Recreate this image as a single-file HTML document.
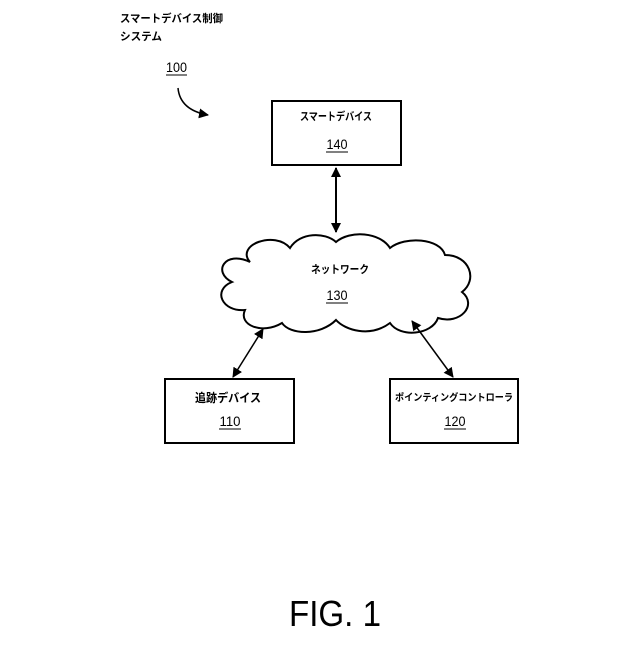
<!DOCTYPE html>
<html><head><meta charset="utf-8"><style>
body{margin:0;background:#fff;}
svg text{font-family:"Liberation Sans","Noto Sans CJK JP",sans-serif;fill:#000;}
</style></head><body>
<svg width="640" height="640" viewBox="0 0 640 640" xmlns="http://www.w3.org/2000/svg">
<defs>
<marker id="a" markerWidth="10" markerHeight="10" refX="9" refY="5" orient="auto-start-reverse" markerUnits="userSpaceOnUse">
<path d="M0,0 L10,5 L0,10 Z" fill="#000"/></marker>
</defs>
<text x="120" y="22" font-size="11" font-weight="bold" textLength="103" lengthAdjust="spacingAndGlyphs">スマートデバイス制御</text>
<text x="120" y="40" font-size="11" font-weight="bold" textLength="42" lengthAdjust="spacingAndGlyphs">システム</text>
<text x="166" y="72" font-size="14" textLength="21" lengthAdjust="spacingAndGlyphs">100</text>
<line x1="166" y1="75" x2="187" y2="75" stroke="#000" stroke-width="1"/>
<path d="M178,88 Q180,110 208,115" fill="none" stroke="#000" stroke-width="1.5" marker-end="url(#a)"/>

<rect x="272" y="101" width="129" height="64" fill="none" stroke="#000" stroke-width="2"/>
<text x="336" y="120" font-size="11" font-weight="bold" text-anchor="middle" textLength="72" lengthAdjust="spacingAndGlyphs">スマートデバイス</text>
<text x="337" y="149" font-size="14" text-anchor="middle" textLength="21" lengthAdjust="spacingAndGlyphs">140</text>
<line x1="326" y1="152" x2="348" y2="152" stroke="#000"/>

<line x1="336" y1="168" x2="336" y2="232" stroke="#000" stroke-width="2" marker-start="url(#a)" marker-end="url(#a)"/>

<path d="M250,262 C235,245 275,230 290,248 C300,232 325,232 336,242 C350,230 380,232 390,248 C405,236 440,238 445,255 C470,255 478,280 462,292 C478,305 460,325 438,318 C432,335 400,338 390,323 C370,338 345,330 336,320 C320,336 290,335 282,323 C262,335 238,325 245,310 C222,312 212,290 232,282 C212,272 225,250 250,262 Z" fill="#fff" stroke="#000" stroke-width="2"/>
<text x="340" y="273" font-size="11" font-weight="bold" text-anchor="middle" textLength="58" lengthAdjust="spacingAndGlyphs">ネットワーク</text>
<text x="337" y="300" font-size="14" text-anchor="middle" textLength="21" lengthAdjust="spacingAndGlyphs">130</text>
<line x1="326" y1="303" x2="348" y2="303" stroke="#000"/>

<line x1="263" y1="329" x2="233" y2="377" stroke="#000" stroke-width="1.5" marker-start="url(#a)" marker-end="url(#a)"/>
<line x1="412" y1="321" x2="453" y2="377" stroke="#000" stroke-width="1.5" marker-start="url(#a)" marker-end="url(#a)"/>

<rect x="165" y="379" width="129" height="64" fill="none" stroke="#000" stroke-width="2"/>
<text x="228" y="402" font-size="12" font-weight="bold" text-anchor="middle" textLength="66" lengthAdjust="spacingAndGlyphs">追跡デバイス</text>
<text x="230" y="426" font-size="14" text-anchor="middle" textLength="21" lengthAdjust="spacingAndGlyphs">110</text>
<line x1="219" y1="429" x2="241" y2="429" stroke="#000"/>

<rect x="390" y="379" width="128" height="64" fill="none" stroke="#000" stroke-width="2"/>
<text x="454" y="401" font-size="10" font-weight="bold" text-anchor="middle" textLength="118" lengthAdjust="spacingAndGlyphs">ポインティングコントローラ</text>
<text x="455" y="426" font-size="14" text-anchor="middle" textLength="21" lengthAdjust="spacingAndGlyphs">120</text>
<line x1="444" y1="429" x2="466" y2="429" stroke="#000"/>

<text x="335" y="626" font-size="36" text-anchor="middle" textLength="92" lengthAdjust="spacingAndGlyphs">FIG. 1</text>
</svg>
</body></html>
